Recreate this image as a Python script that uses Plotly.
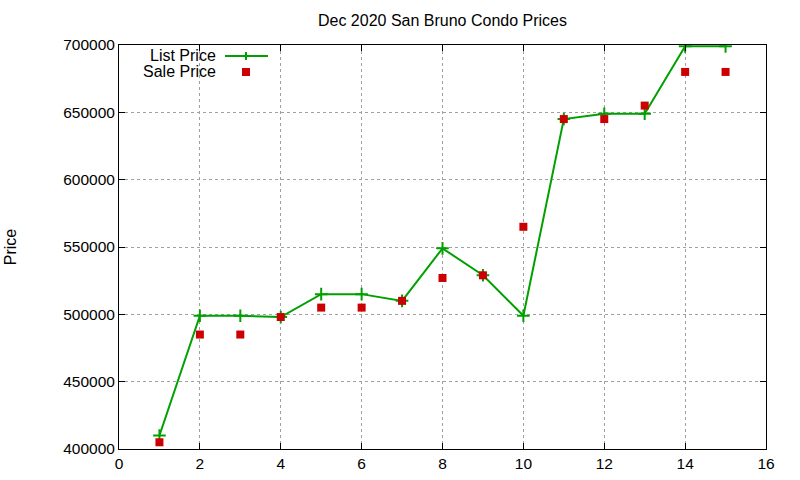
import plotly.graph_objects as go

x_vals = list(range(1, 16))
list_price = [410000, 499000, 499000, 498000, 515000, 515000, 510000, 549000,
              529000, 499000, 645000, 649000, 649000, 699000, 699000]
sale_price = [405000, 485000, 485000, 498000, 505000, 505000, 510000, 527000,
              529000, 565000, 645000, 645000, 655000, 680000, 680000]

GREEN = "#00a000"
RED = "#cc0000"
FONT = "Liberation Sans, Arial, sans-serif"

fig = go.Figure()
fig.add_trace(go.Scatter(
    x=x_vals, y=list_price, mode="lines+markers", name="List Price",
    line=dict(color=GREEN, width=2),
    marker=dict(symbol="cross-thin", size=9, line=dict(color=GREEN, width=2)),
))
fig.add_trace(go.Scatter(
    x=x_vals, y=sale_price, mode="markers", name="Sale Price",
    marker=dict(symbol="square", size=8, color=RED),
))

axis_common = dict(
    showline=True, linecolor="black", linewidth=1, mirror="ticks",
    ticks="inside", ticklen=6, tickcolor="black",
    showgrid=True, gridcolor="#a0a0a0", griddash="dot", gridwidth=1,
    zeroline=False, automargin=False,
    tickfont=dict(family=FONT, size=15.5, color="black"),
)

fig.update_xaxes(range=[0, 16], dtick=2, tick0=0, **axis_common)
fig.update_yaxes(range=[400000, 700000], dtick=50000, tick0=400000,
                 tickformat="d", **axis_common)

PL, PR, PT, PB = 119, 766, 45, 449
W, H = PR - PL, PB - PT

def px(x):
    return (x - PL) / W

def py(y):
    return 1 - (y - PT) / H

# custom legend (gnuplot style: text right-aligned, sample to the right)
fig.add_annotation(xref="paper", yref="paper", x=px(218), y=py(55),
                   text="List Price", showarrow=False, xanchor="right", yanchor="middle",
                   font=dict(family=FONT, size=16, color="black"))
fig.add_annotation(xref="paper", yref="paper", x=px(218), y=py(71),
                   text="Sale Price", showarrow=False, xanchor="right", yanchor="middle",
                   font=dict(family=FONT, size=16, color="black"))
fig.add_shape(type="line", xref="paper", yref="paper",
              x0=px(225), x1=px(268), y0=py(56), y1=py(56),
              line=dict(color=GREEN, width=2))
fig.add_shape(type="line", xref="paper", yref="paper",
              x0=px(246), x1=px(246), y0=py(52), y1=py(60),
              line=dict(color=GREEN, width=2))
fig.add_shape(type="rect", xref="paper", yref="paper",
              x0=px(242), x1=px(250), y0=py(76), y1=py(68),
              fillcolor=RED, line=dict(width=0))

fig.update_layout(
    width=800, height=480,
    margin=dict(l=PL, r=800 - PR, t=PT, b=480 - PB),
    paper_bgcolor="white", plot_bgcolor="white",
    showlegend=False,
    title=dict(text="Dec 2020 San Bruno Condo Prices", x=(PL + PR) / 2 / 800, xanchor="center",
               y=1 - 20 / 480, yanchor="middle",
               font=dict(family=FONT, size=16, color="black")),
    yaxis_title=dict(text="Price", font=dict(family=FONT, size=16, color="black"), standoff=42),
    font=dict(family=FONT, size=15, color="black"),
)

fig.write_html("out.html", config={"displayModeBar": False},
               post_script="document.body.style.margin='0';")
